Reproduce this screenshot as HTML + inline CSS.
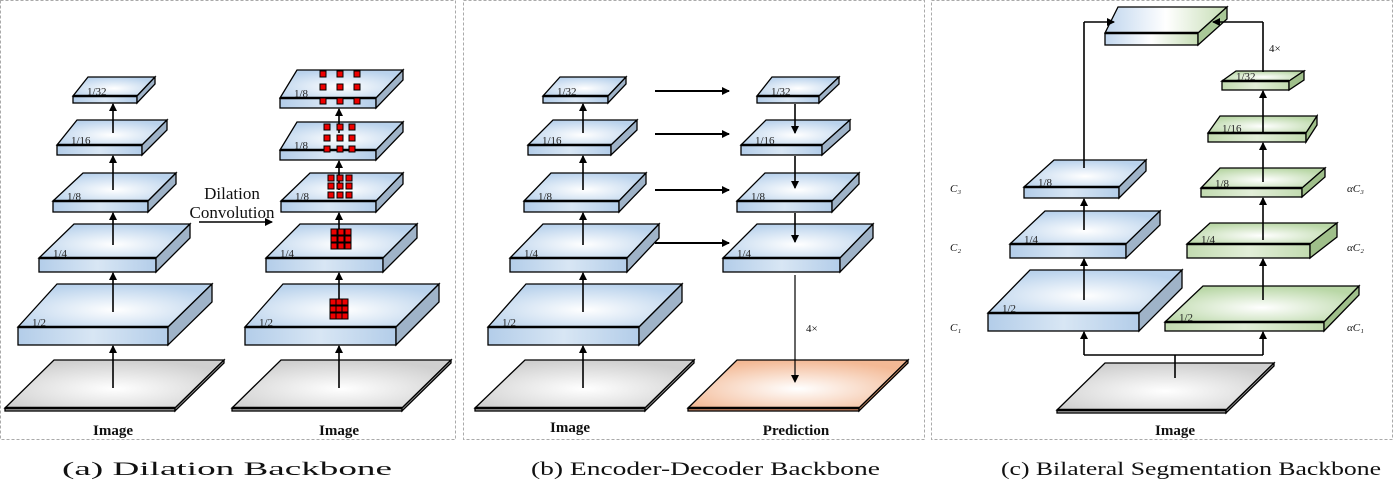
<!DOCTYPE html>
<html><head><meta charset="utf-8"><style>
html,body{margin:0;padding:0;background:#fff;}
svg{display:block;}
text{font-family:"Liberation Serif",serif;}
</style></head><body>
<svg id="s" width="1395" height="489" viewBox="0 0 1395 489" xmlns="http://www.w3.org/2000/svg">
<defs>
<radialGradient id="tb" cx="0.5" cy="0.6" r="0.6"><stop offset="0" stop-color="#ffffff"/><stop offset="1" stop-color="#b9d2ec"/></radialGradient>
<linearGradient id="fb" x1="0" y1="0" x2="1" y2="0"><stop offset="0" stop-color="#b3cde9"/><stop offset="0.5" stop-color="#d8e6f4"/><stop offset="1" stop-color="#b3cde9"/></linearGradient>
<radialGradient id="tg" cx="0.5" cy="0.6" r="0.6"><stop offset="0" stop-color="#ffffff"/><stop offset="1" stop-color="#b9d7a6"/></radialGradient>
<linearGradient id="fg" x1="0" y1="0" x2="1" y2="0"><stop offset="0" stop-color="#c2dbb0"/><stop offset="0.5" stop-color="#e2eed8"/><stop offset="1" stop-color="#c2dbb0"/></linearGradient>
<radialGradient id="tgr" cx="0.5" cy="0.6" r="0.6"><stop offset="0" stop-color="#ffffff"/><stop offset="1" stop-color="#cfcfcf"/></radialGradient>
<radialGradient id="tor" cx="0.5" cy="0.6" r="0.6"><stop offset="0" stop-color="#ffffff"/><stop offset="1" stop-color="#f3b995"/></radialGradient>
<linearGradient id="tm" x1="0" y1="0" x2="1" y2="0"><stop offset="0" stop-color="#c0d6ee"/><stop offset="0.5" stop-color="#ffffff"/><stop offset="1" stop-color="#c6ddb4"/></linearGradient>
<marker id="ar" markerWidth="8" markerHeight="8" refX="7" refY="4" orient="auto" markerUnits="userSpaceOnUse"><path d="M0,0 L8,4 L0,8 Z" fill="#000"/></marker>
</defs>
<g fill="none" stroke="#aaa" stroke-dasharray="3,2" stroke-width="1">
<rect x="0.5" y="0.5" width="455" height="439"/>
<rect x="463.5" y="0.5" width="461" height="439"/>
<rect x="931.5" y="0.5" width="461" height="439"/>
</g>
<g id="g"></g>
<g font-size="19" fill="#111">
<text x="62" y="475" textLength="330" lengthAdjust="spacingAndGlyphs">(a) Dilation Backbone</text>
<text x="531" y="475" textLength="349" lengthAdjust="spacingAndGlyphs">(b) Encoder-Decoder Backbone</text>
<text x="1001" y="475" textLength="380" lengthAdjust="spacingAndGlyphs">(c) Bilateral Segmentation Backbone</text>
</g>
<g font-size="15" font-weight="bold" text-anchor="middle" fill="#111">
<text x="113" y="435">Image</text><text x="339" y="435">Image</text>
<text x="570" y="432">Image</text><text x="796" y="435">Prediction</text>
<text x="1175" y="435">Image</text>
<text x="232" y="199" font-weight="normal" font-size="17">Dilation</text>
<text x="232" y="218" font-weight="normal" font-size="17">Convolution</text>
</g>
<g font-size="11" font-style="italic" fill="#111">
<text x="950" y="192">C₃</text><text x="950" y="251">C₂</text><text x="950" y="331">C₁</text>
<text x="1347" y="192">αC₃</text><text x="1347" y="251">αC₂</text><text x="1347" y="331">αC₁</text>
</g>
<g font-size="11" fill="#111"><text x="806" y="332">4×</text><text x="1269" y="52">4×</text></g>
</svg>
<script>
var g=document.getElementById('g'),NS='http://www.w3.org/2000/svg';
function el(t,a){var e=document.createElementNS(NS,t);for(var k in a)e.setAttribute(k,a[k]);g.appendChild(e);return e;}
function slab(x1,x2,fy,fb,by,bx1,bx2,c,lab){
 var top={b:'url(#tb)',g:'url(#tg)',r:'url(#tgr)',o:'url(#tor)',m:'url(#tm)'}[c];
 var fr={b:'url(#fb)',g:'url(#fg)',r:'#aaa',o:'#d9906a',m:'url(#tm)'}[c];
 var sd={b:'#9fb3c8',g:'#9fbf8a',r:'#999',o:'#c98a64',m:'#a9c897'}[c];
 var t=fb-fy;
 el('polygon',{points:x1+','+fy+' '+x2+','+fy+' '+bx2+','+by+' '+bx1+','+by,fill:top,stroke:'#000','stroke-width':1.3});
 el('rect',{x:x1,y:fy,width:x2-x1,height:t,fill:fr,stroke:'#000','stroke-width':1.3});
 el('polygon',{points:x2+','+fy+' '+bx2+','+by+' '+bx2+','+(by+t)+' '+x2+','+fb,fill:sd,stroke:'#000','stroke-width':1.3});
 el('line',{x1:x1,y1:fy,x2:x2,y2:fy,stroke:'#000','stroke-width':2.5});
 if(lab){var e=el('text',{x:x1+14,y:fy-1,'font-size':11,fill:'#222'});e.textContent=lab;}
}
function arr(x1,y1,x2,y2,w){el('line',{x1:x1,y1:y1,x2:x2,y2:y2,stroke:'#000','stroke-width':w||1.6,'marker-end':'url(#ar)'});}
function ln(x1,y1,x2,y2){el('line',{x1:x1,y1:y1,x2:x2,y2:y2,stroke:'#000','stroke-width':1.6});}
function sq(x,y){el('rect',{x:x-3,y:y-3,width:6,height:6,fill:'#e00',stroke:'#000','stroke-width':1});}
slab(5,175,408,411,360,54,224,'r');
slab(18,168,327,345,284,57,212,'b','1/2');
slab(39,156,258,272,224,74,190,'b','1/4');
slab(53,148,201,212,173,83,176,'b','1/8');
slab(57,142,145,155,120,77,167,'b','1/16');
slab(73,137,96,103,77,88,155,'b','1/32');
[[388,346],[312,273],[245,213],[190,156],[133,104]].forEach(function(p){arr(113,p[0],113,p[1]);});
slab(232,402,408,411,360,281,451,'r');
slab(245,396,327,345,284,283,439,'b','1/2');
slab(266,383,258,272,224,300,417,'b','1/4');
slab(281,376,201,212,173,310,403,'b','1/8');
slab(280,376,150,160,122,297,403,'b','1/8');
slab(280,376,98,108,70,297,403,'b','1/8');
[[388,346],[312,273],[245,213],[190,161],[133,109]].forEach(function(p){arr(339,p[0],339,p[1]);});
arr(199,222,272,222,1.4);
[[333,302],[339,302],[345,302],[333,309],[339,309],[345,309],[333,316],[339,316],[345,316]].forEach(function(p){sq(p[0],p[1]);});
[[334,232],[341,232],[348,232],[334,239],[341,239],[348,239],[334,246],[341,246],[348,246]].forEach(function(p){sq(p[0],p[1]);});
[[331,178],[340,178],[349,178],[331,186],[340,186],[349,186],[331,195],[340,195],[349,195]].forEach(function(p){sq(p[0],p[1]);});
[[327,127],[340,127],[352,127],[327,138],[340,138],[352,138],[327,149],[340,149],[352,149]].forEach(function(p){sq(p[0],p[1]);});
[[323,74],[340,74],[357,74],[323,87],[340,87],[357,87],[323,101],[340,101],[357,101]].forEach(function(p){sq(p[0],p[1]);});
slab(475,645,408,411,360,525,694,'r');
slab(488,639,327,345,284,526,682,'b','1/2');
slab(510,627,258,272,224,543,659,'b','1/4');
slab(524,619,201,212,173,551,646,'b','1/8');
slab(528,611,145,155,120,553,637,'b','1/16');
slab(543,608,96,103,77,560,626,'b','1/32');
[[388,346],[312,273],[245,213],[190,156],[133,104]].forEach(function(p){arr(583,p[0],583,p[1]);});
slab(688,859,408,411,360,737,908,'o');
slab(723,840,258,272,224,757,873,'b','1/4');
slab(737,832,201,212,173,765,859,'b','1/8');
slab(741,822,145,155,120,766,850,'b','1/16');
slab(757,819,96,103,77,772,839,'b','1/32');
[91,134,190,243].forEach(function(y){arr(655,y,729,y,2);});
arr(795,104,795,133);arr(795,156,795,188);arr(795,213,795,242);arr(795,275,795,382,1.2);
slab(1057,1226,410,413,363,1105,1274,'r');
slab(988,1139,313,331,270,1030,1182,'b','1/2');
slab(1010,1126,244,258,211,1045,1160,'b','1/4');
slab(1024,1119,187,198,160,1054,1146,'b','1/8');
slab(1165,1324,322,331,286,1203,1359,'g','1/2');
slab(1187,1310,244,258,223,1210,1337,'g','1/4');
slab(1201,1302,188,197,168,1220,1325,'g','1/8');
slab(1208,1306,133,142,116,1220,1317,'g','1/16');
slab(1222,1289,81,90,71,1236,1304,'g','1/32');
slab(1105,1198,33,45,7,1118,1227,'m');
ln(1175,378,1175,355);ln(1084,355,1263,355);
arr(1084,355,1084,332);arr(1263,355,1263,332);
arr(1084,300,1084,259);arr(1084,230,1084,199);
arr(1263,300,1263,259);arr(1263,240,1263,198);arr(1263,182,1263,143);arr(1263,132,1263,91);
ln(1084,168,1084,22);arr(1084,22,1114,22);
ln(1263,72,1263,22);arr(1263,22,1213,22);
</script>
</body></html>
